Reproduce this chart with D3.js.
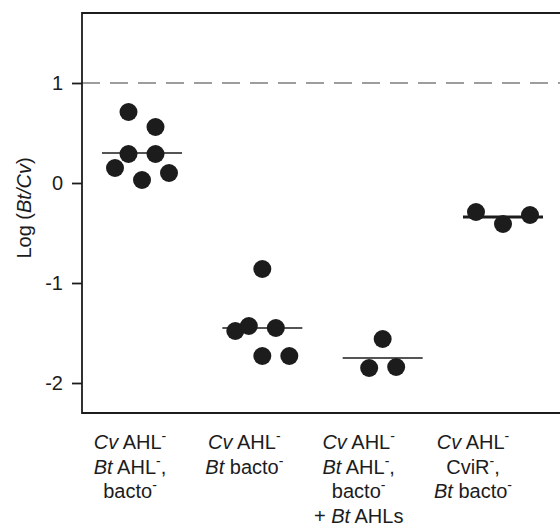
<!DOCTYPE html>
<html><head><meta charset="utf-8">
<script src="https://cdn.jsdelivr.net/npm/d3@7"></script>
<style>
body{margin:0;background:#fff;}
svg{display:block;font-family:"Liberation Sans",Arial,Helvetica,sans-serif;}
</style></head>
<body><svg id="chart" width="560" height="525"></svg>
<script>
// ---- data ----
const groups = ["g1","g2","g3","g4"];
const values = [
  [0.71,0.56,0.29,0.29,0.15,0.03,0.10],
  [-0.86,-1.48,-1.43,-1.45,-1.73,-1.73],
  [-1.56,-1.85,-1.84],
  [-0.29,-0.41,-0.32]
];
// beeswarm slot index of each point (side-by-side placement of overlapping dots)
const slots = [
  [-1,1,-1,1,-2,0,2],
  [0,-2,-1,1,0,2],
  [0,-1,1],
  [-2,0,2]
];
const medians = [0.30,-1.45,-1.75,-0.34];
const refValue = 1;
const yTicks = [-2,-1,0,1];
const yDomain = [-2.3,1.7];
// label lines: segments [text, kind] kind: n normal, i italic, s superscript
const labels = [
  [[["Cv","i"],[" AHL","n"],["-","s"]],
   [["Bt","i"],[" AHL","n"],["-","s"],[",","n"]],
   [["bacto","n"],["-","s"]]],
  [[["Cv","i"],[" AHL","n"],["-","s"]],
   [["Bt","i"],[" bacto","n"],["-","s"]]],
  [[["Cv","i"],[" AHL","n"],["-","s"]],
   [["Bt","i"],[" AHL","n"],["-","s"],[",","n"]],
   [["bacto","n"],["-","s"]],
   [["+ ","n"],["Bt","i"],[" AHLs","n"]]],
  [[["Cv","i"],[" AHL","n"],["-","s"]],
   [["CviR","n"],["-","s"],[",","n"]],
   [["Bt","i"],[" bacto","n"],["-","s"]]]
];
const yTitle = [["Log (","n"],["Bt/Cv","i"],[")","n"]];

// ---- layout ----
const svg = d3.select("#chart");
const mL = 82, mT = 13, mB = 413, mR = 560;
const y = d3.scaleLinear().domain(yDomain).range([mB, mT]);
const x = d3.scalePoint().domain(groups).range([142, 503]);
const xl = d3.scalePoint().domain(groups).range([130, 473]);
const r = 9, step = 13.5;
const ink = "#1c1c1c";
const fs = 20;

// reference dashed line
svg.append("line")
  .attr("x1", mL).attr("x2", mR)
  .attr("y1", y(refValue)).attr("y2", y(refValue))
  .attr("stroke", "#7d7d7d").attr("stroke-width", 1.6)
  .attr("stroke-dasharray", "18,10");

// frame
svg.append("path")
  .attr("d", `M${mR},${mT}H${mL}V${mB}H${mR}`)
  .attr("fill", "none").attr("stroke", ink).attr("stroke-width", 1.8);

// y axis
const ax = svg.append("g").attr("transform", `translate(${mL},0)`)
  .call(d3.axisLeft(y).tickValues(yTicks).tickSize(10).tickPadding(9).tickFormat(d3.format("d")));
ax.select(".domain").remove();
ax.selectAll(".tick line").attr("stroke", ink).attr("stroke-width", 1.8);
ax.selectAll(".tick text").attr("fill", ink).attr("font-size", fs)
  .attr("font-family", '"Liberation Sans",Arial,sans-serif')
  .text(d => d < 0 ? "-" + Math.abs(d) : d);

// points
groups.forEach((g, gi) => {
  svg.append("g").selectAll("circle")
    .data(values[gi].map((v, i) => ({v, s: slots[gi][i]})))
    .join("circle")
    .attr("cx", d => x(g) + d.s * step)
    .attr("cy", d => y(d.v))
    .attr("r", r)
    .attr("fill", ink);
  // median line
  svg.append("line")
    .attr("x1", x(g) - 40).attr("x2", x(g) + 40)
    .attr("y1", y(medians[gi])).attr("y2", y(medians[gi]))
    .attr("stroke", ink).attr("stroke-width", gi === 3 ? 3 : 1.6);
});

// rich text helper
function rich(textSel, segs, fs) {
  let raised = false;
  segs.forEach(([t, k]) => {
    const ts = textSel.append("tspan").text(t);
    if (k === "i") ts.attr("font-style", "italic");
    if (k === "s") {
      ts.attr("font-size", fs * 0.7).attr("dy", -fs * 0.38);
      raised = true;
    } else if (raised) {
      ts.attr("dy", fs * 0.38);
      raised = false;
    }
  });
}

// x labels
groups.forEach((g, gi) => {
  labels[gi].forEach((line, li) => {
    const t = svg.append("text")
      .attr("x", xl(g)).attr("y", 449 + li * 24.5)
      .attr("text-anchor", "middle").attr("font-size", fs).attr("fill", ink);
    rich(t, line, fs);
  });
});

// y title
const yt = svg.append("text")
  .attr("transform", `translate(31,${208}) rotate(-90)`)
  .attr("text-anchor", "middle").attr("font-size", fs).attr("fill", ink);
rich(yt, yTitle, fs);
</script></body></html>
